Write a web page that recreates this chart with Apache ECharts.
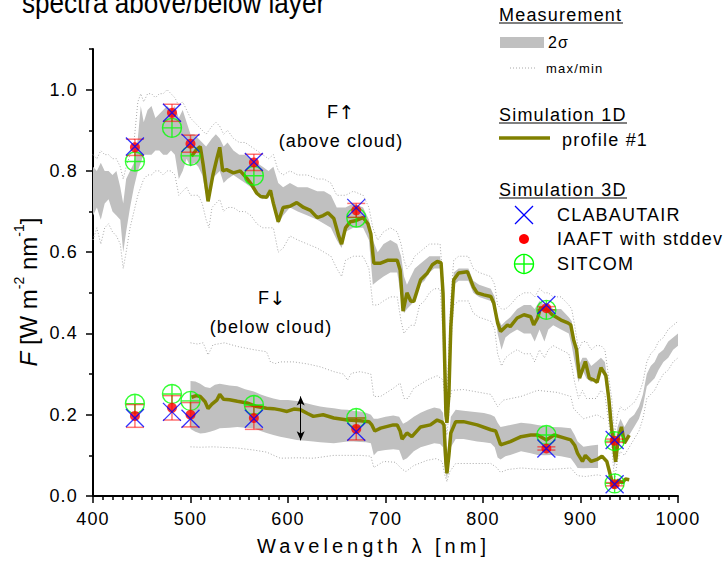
<!DOCTYPE html>
<html>
<head>
<meta charset="utf-8">
<script src="https://cdn.jsdelivr.net/npm/echarts/dist/echarts.min.js"></script>
<style>
html,body{margin:0;padding:0;background:#fff;}
#main{width:724px;height:564px;}
/* the original figure uses wide letter spacing */
#main text{letter-spacing:1.2px;}
#main text[style*="20px"]{letter-spacing:4px;}
#main text[style*="29px"],#main text[style*="24px"],#main text[style*="14px"],#main text[style*="19px"]{letter-spacing:0;}
</style>
</head>
<body>
<div id="main"></div>
<script>
// measured F up (above cloud): 2 sigma band and max/min
var upWl = [400,404,408,412,416,420,424,428,431,434,
    438,442,446,449,452,456,460,464,468,472,
    476,480,484,488,492,496,500,504,508,512,
    516,519,522,526,530,534,538,544,550,556,
    562,568,574,580,585,590,595,602,610,620,
    630,637,644,650,655,659,667,677,683,687,
    692,698,705,712,716,719,722,726,730,735,
    740,745,750,756,759,761,763,765,767,770,
    775,785,790,796,808,812,815,819,823,828,
    835,842,849,853,858,863,867,872,880,888,
    891,894,898,902,906,911,916,921,925,929,
    932,935,938,941,945,950,955,960,964,968,
    972,976,980,985,990,995,1000];
var upLo = [.69,.71,.68,.72,.73,.70,.69,.68,.60,.65,
    .71,.76,.80,.82,.84,.84,.84,.85,.85,.84,
    .84,.85,.84,.78,.80,.83,.81,.82,.81,.79,
    .74,.73,.78,.79,.80,.77,.78,.79,.78,.77,
    .76,.74,.73,.74,.74,.67,.69,.71,.70,.69,
    .68,.67,.66,.63,.61,.65,.66,.66,.63,.52,
    .53,.54,.55,.55,.49,.45,.46,.47,.48,.52,
    .53,.55,.56,.56,.45,.25,.17,.25,.42,.52,
    .53,.53,.50,.49,.48,.46,.40,.36,.39,.40,
    .41,.40,.40,.38,.41,.38,.41,.42,.41,.40,
    .37,.33,.28,.31,.29,.28,.29,.31,.29,.22,
    .16,.07,.12,.15,.13,.15,.17,.19,.22,.27,
    .28,.29,.31,.33,.34,.36,.37];
var upHi = [.81,.80,.82,.80,.80,.79,.80,.76,.72,.78,
    .80,.82,.88,.96,.92,.95,.96,.93,.94,.95,
    .96,.95,.96,.93,.95,.92,.89,.89,.88,.87,
    .86,.87,.88,.89,.88,.86,.87,.85,.84,.84,
    .83,.82,.81,.80,.81,.77,.76,.77,.76,.76,
    .75,.75,.74,.71,.71,.71,.72,.71,.68,.63,
    .60,.62,.63,.62,.59,.54,.52,.54,.56,.57,
    .58,.59,.59,.59,.50,.35,.20,.33,.46,.55,
    .56,.56,.53,.52,.51,.49,.44,.42,.43,.44,
    .46,.47,.47,.46,.48,.47,.47,.46,.46,.44,
    .43,.38,.32,.34,.34,.32,.33,.34,.33,.26,
    .21,.12,.17,.19,.17,.19,.20,.22,.25,.30,
    .32,.33,.35,.36,.38,.39,.40];
var upMin = [.63,.66,.62,.66,.67,.65,.64,.62,.56,.60,
    .66,.70,.74,.76,.78,.79,.79,.80,.80,.79,
    .80,.80,.79,.74,.75,.76,.74,.74,.74,.72,
    .68,.66,.71,.72,.73,.70,.71,.71,.70,.70,
    .69,.67,.66,.66,.66,.60,.61,.64,.63,.62,
    .61,.60,.59,.56,.54,.58,.59,.59,.56,.47,
    .47,.48,.49,.49,.43,.40,.41,.42,.42,.47,
    .48,.50,.51,.51,.40,.20,.15,.20,.37,.47,
    .48,.48,.45,.44,.43,.41,.35,.32,.34,.35,
    .36,.35,.35,.33,.36,.34,.36,.37,.36,.35,
    .32,.28,.24,.26,.24,.24,.24,.26,.25,.18,
    .12,.04,.09,.11,.10,.12,.14,.16,.19,.24,
    .25,.26,.28,.30,.31,.33,.34];
var upMax = [.84,.83,.85,.84,.84,.83,.83,.81,.78,.81,
    .84,.87,.97,.99,.97,.99,.99,.98,.99,.99,
    1.00,.99,.98,.96,.97,.95,.93,.92,.91,.90,
    .89,.90,.91,.92,.91,.89,.90,.88,.87,.87,
    .86,.85,.84,.83,.84,.80,.79,.80,.79,.79,
    .78,.78,.77,.74,.74,.74,.75,.74,.71,.66,
    .63,.65,.66,.65,.62,.58,.56,.57,.59,.60,
    .61,.62,.62,.62,.53,.38,.23,.36,.49,.58,
    .59,.59,.56,.55,.54,.52,.47,.46,.46,.47,
    .49,.50,.50,.49,.51,.50,.50,.49,.49,.47,
    .46,.42,.36,.38,.38,.36,.37,.37,.36,.29,
    .24,.15,.20,.22,.21,.22,.23,.25,.28,.33,
    .35,.36,.38,.39,.41,.42,.43];

// measured F down (below cloud): 2 sigma band
var dnWl = [500,505,510,515,520,525,530,540,548,556,
    565,572,578,585,592,600,609,618,626,633,
    640,647,655,661,667,674,680,685,688,692,
    700,708,714,718,722,729,736,743,750,756,
    759,761,763,765,767,772,780,787,794,801,
    808,812,815,818,823,828,839,849,856,863,
    870,880,890,894,897,903,911,918];
var dnLo = [.165,.158,.154,.155,.158,.162,.167,.168,.17,.168,
    .167,.16,.155,.15,.146,.142,.138,.136,.134,.132,
    .131,.13,.132,.134,.134,.133,.132,.13,.10,.11,
    .113,.115,.113,.088,.093,.11,.12,.125,.13,.128,
    .12,.07,.04,.08,.12,.14,.14,.137,.134,.132,
    .13,.12,.095,.09,.098,.101,.11,.105,.101,.10,
    .101,.098,.093,.08,.069,.068,.069,.069];
var dnHi = [.283,.282,.276,.268,.266,.274,.276,.272,.27,.263,
    .257,.25,.245,.24,.236,.236,.234,.229,.224,.22,
    .218,.216,.213,.212,.21,.208,.205,.2,.19,.19,
    .195,.198,.195,.178,.183,.195,.205,.212,.218,.215,
    .205,.15,.10,.14,.195,.212,.21,.208,.206,.204,
    .2,.195,.18,.17,.172,.175,.18,.178,.175,.172,
    .17,.169,.167,.15,.134,.121,.124,.126];
// measured F down max / min
var dnMaxWl = [500,507,513,518,523,535,548,565,578,582,
    587,592,606,620,633,647,657,661,665,674,
    685,688,695,708,715,719,723,729,743,753,
    759,761,763,765,768,780,794,808,815,821,
    839,856,876,890,893,903,917,924];
var dnMax = [.377,.374,.377,.347,.372,.377,.368,.36,.355,.33,
    .326,.33,.33,.325,.318,.306,.30,.285,.302,.306,
    .30,.245,.245,.265,.278,.24,.24,.265,.286,.296,
    .286,.24,.19,.23,.26,.262,.256,.25,.22,.236,
    .245,.26,.255,.245,.215,.19,.2,.19];
var dnMinWl = [500,510,523,548,565,578,592,610,626,647,
    674,685,688,698,710,717,721,729,743,752,
    758,761,763,766,772,780,795,808,814,818,
    825,839,850,863,880,890,897,905,917,922];
var dnMin = [.121,.12,.121,.118,.113,.108,.093,.094,.093,.10,
    .10,.098,.07,.085,.083,.066,.06,.075,.088,.092,
    .085,.05,.035,.06,.08,.08,.08,.08,.07,.058,
    .065,.069,.067,.065,.067,.069,.05,.048,.052,.05];

// simulation 1D, profile #1
var simUpWl = [501,506,510,513,518,523,527,530,533,537,
    544,551,558,563,568,572,578,582,585,590,
    595,602,609,616,623,630,636,641,647,652,
    655,659,664,670,677,682,685,688,695,702,
    712,715,718,722,726,729,736,743,748,753,
    757,759,760,762,763,765,767,770,775,784,
    790,794,801,808,811,815,818,825,828,835,
    842,849,852,856,859,866,871,880,887,890,
    893,896,899,905,909,914,917,921,926,929,
    931,934,936,939,942,945,950];
var simUp = [.836,.852,.86,.815,.725,.79,.83,.858,.80,.803,
    .795,.80,.781,.765,.745,.737,.735,.752,.72,.675,
    .71,.713,.722,.71,.703,.685,.69,.697,.683,.64,
    .62,.66,.675,.678,.685,.67,.645,.573,.573,.58,
    .58,.556,.455,.50,.479,.479,.532,.549,.569,.577,
    .574,.50,.40,.20,.18,.25,.417,.532,.549,.552,
    .515,.50,.495,.491,.475,.426,.405,.421,.417,.438,
    .446,.441,.421,.438,.463,.458,.446,.433,.426,.421,
    .384,.36,.29,.331,.29,.285,.28,.316,.297,.24,
    .187,.121,.084,.146,.17,.13,.15];
var simDnWl = [501,506,510,515,518,522,527,530,534,540,
    548,558,568,578,585,592,599,606,613,620,
    626,636,647,661,674,683,686,689,695,708,
    712,715,717,722,727,736,746,753,758,760,
    762,763,765,767,772,780,794,808,813,816,
    818,828,839,849,856,865,873,883,890,894,
    897,902,905,911,917,922,927,931,934,937,
    939,943,946,950];
var simDn = [.243,.247,.245,.232,.215,.226,.236,.25,.238,.237,
    .233,.229,.22,.216,.215,.212,.208,.214,.212,.203,
    .196,.2,.192,.187,.185,.183,.175,.16,.167,.175,
    .175,.16,.14,.155,.146,.17,.175,.187,.182,.175,
    .08,.056,.10,.155,.183,.183,.175,.163,.16,.14,
    .126,.134,.146,.15,.15,.138,.15,.143,.138,.125,
    .105,.085,.10,.085,.09,.098,.085,.048,.02,.035,
    .039,.032,.042,.04];

// simulation 3D
var wl3d = [443, 481, 500, 565, 670, 865, 935];
var clabUp = [.860, .943, .869, .822, .709, .470, .138];
var iaaftUp = [.858, .943, .867, .821, .703, .462, .136];
var iaaftUpSd = [.02, .021, .021, .02, .017, .004, .004];
var sitcomUp = [.823, .906, .837, .788, .685, .458, .135];
var clabDn = [.192, .207, .190, .190, .158, .117, .029];
var iaaftDn = [.197, .217, .200, .192, .165, .117, .029];
var iaaftDnSd = [.028, .03, .03, .028, .027, .004, .004];
var sitcomDn = [.227, .251, .234, .224, .192, .150, .031];

var xMajor = [400, 500, 600, 700, 800, 900, 1000];
var yMajor = [0, 0.2, 0.4, 0.6, 0.8, 1.0];
var yMinor = [0.1, 0.3, 0.5, 0.7, 0.9, 1.1];

var FONT = 'Liberation Sans, Arial, sans-serif';

function pairs(xs, ys) {
    var out = [];
    for (var i = 0; i < xs.length; i++) out.push([xs[i], ys[i]]);
    return out;
}

// grey 2 sigma band drawn as one polygon
function band(xs, lo, hi) {
    var rows = [];
    for (var i = 0; i < xs.length; i++) rows.push([xs[i], lo[i], hi[i]]);
    return {
        type: 'custom', silent: true, z: 1,
        data: rows,
        encode: {x: 0, y: [1, 2]},
        renderItem: function (params, api) {
            if (params.dataIndex !== 0) return null;
            var pts = [];
            for (var i = 0; i < rows.length; i++) pts.push(api.coord([rows[i][0], rows[i][2]]));
            for (var j = rows.length - 1; j >= 0; j--) pts.push(api.coord([rows[j][0], rows[j][1]]));
            return {type: 'polygon', shape: {points: pts}, style: {fill: '#c0c0c0'}};
        }
    };
}

function dotted(xs, ys) {
    return {
        type: 'line', silent: true, z: 2, data: pairs(xs, ys),
        symbol: 'none', showSymbol: false,
        lineStyle: {color: '#a8a8a8', width: 1, type: [1, 2]}
    };
}

function errBars(xs, ys, sd) {
    var rows = [];
    for (var i = 0; i < xs.length; i++) rows.push([xs[i], ys[i], sd[i]]);
    return {
        type: 'custom', silent: true, z: 5,
        data: rows,
        encode: {x: 0, y: 1},
        renderItem: function (params, api) {
            var x = api.value(0), y = api.value(1), s = api.value(2);
            var top = api.coord([x, y + s]);
            var bot = api.coord([x, y - s]);
            var w = 9;
            function st() { return {stroke: 'rgba(255,0,0,0.55)', lineWidth: 1.5}; }
            return {type: 'group', children: [
                {type: 'line', shape: {x1: top[0], y1: top[1], x2: bot[0], y2: bot[1]}, style: st()},
                {type: 'line', shape: {x1: top[0] - w, y1: top[1], x2: top[0] + w, y2: top[1]}, style: st()},
                {type: 'line', shape: {x1: bot[0] - w, y1: bot[1], x2: bot[0] + w, y2: bot[1]}, style: st()}
            ]};
        }
    };
}

var crossSym = 'path://M0,0L10,10M10,0L0,10';
var sitcomSym = 'path://M0,10A10,10,0,1,1,20,10A10,10,0,1,1,0,10ZM0,10L20,10M10,0L10,20';

function clab(ys) {
    return {type: 'scatter', silent: true, z: 7, data: pairs(wl3d, ys), symbol: crossSym, symbolSize: 18,
        itemStyle: {color: 'transparent', borderColor: '#0000ff', borderWidth: 1.3}};
}
function iaaft(ys) {
    return {type: 'scatter', silent: true, z: 6, data: pairs(wl3d, ys), symbol: 'circle', symbolSize: 10,
        itemStyle: {color: '#ff0000'}};
}
function sitcom(ys) {
    return {type: 'scatter', silent: true, z: 4, data: pairs(wl3d, ys), symbol: sitcomSym, symbolSize: 19,
        itemStyle: {color: 'transparent', borderColor: '#00ff00', borderWidth: 1.4}};
}

function txt(x, y, s, size, align) {
    return {type: 'text', x: x, y: y, silent: true, style: {
        text: s, fontSize: size, fontFamily: FONT, fill: '#000',
        align: align || 'left', verticalAlign: 'middle'}};
}
// "F" with a tall arrow next to it
function fArrow(x, y, arrow) {
    return {type: 'text', x: x, y: y, silent: true, style: {
        text: '{f|F}{a|' + arrow + '}', align: 'center', verticalAlign: 'middle', fill: '#000',
        rich: {
            f: {fontSize: 18, fontFamily: FONT, verticalAlign: 'bottom', lineHeight: 22},
            a: {fontSize: 19, fontFamily: 'DejaVu Sans', verticalAlign: 'bottom', lineHeight: 22}
        }}};
}
function ln(x1, y1, x2, y2, color, width, dash) {
    return {type: 'line', silent: true, shape: {x1: x1, y1: y1, x2: x2, y2: y2},
        style: {stroke: color, lineWidth: width, lineDash: dash || null}};
}

var chart = echarts.init(document.getElementById('main'), null, {renderer: 'svg'});

var option = {
    animation: false,
    backgroundColor: '#fff',
    textStyle: {fontFamily: FONT},
    grid: {left: 93, right: 46, top: 49, bottom: 68},
    xAxis: {
        type: 'value', min: 400, max: 1000, interval: 100,
        name: 'Wavelength λ [nm]', nameLocation: 'middle', nameGap: 40,
        nameTextStyle: {fontSize: 20, color: '#000', fontFamily: FONT, padding: [0, 24, 0, 0]},
        axisLine: {onZero: false, lineStyle: {color: '#000', width: 2}},
        axisTick: {length: 7, customValues: xMajor, lineStyle: {color: '#000', width: 1.5}},
        minorTick: {show: true, splitNumber: 10, length: 4, lineStyle: {color: '#000', width: 1.5}},
        axisLabel: {customValues: xMajor, fontSize: 18, color: '#000', margin: 14, fontFamily: FONT,
            formatter: function (v) { return String(v); }},
        splitLine: {show: false}
    },
    yAxis: [{
        type: 'value', min: 0, max: 1.1, position: 'left',
        axisLine: {show: true, lineStyle: {color: '#000', width: 2}},
        axisTick: {show: true, length: 7, customValues: yMajor, lineStyle: {color: '#000', width: 1.5}},
        axisLabel: {customValues: yMajor, fontSize: 18, color: '#000', margin: 15, fontFamily: FONT,
            formatter: function (v) { return v.toFixed(1); }},
        splitLine: {show: false}
    }, {
        type: 'value', min: 0, max: 1.1, position: 'left',
        axisLine: {show: false},
        axisTick: {show: true, length: 4, customValues: yMinor, lineStyle: {color: '#000', width: 1.5}},
        axisLabel: {show: false},
        splitLine: {show: false}
    }],
    series: [
        band(upWl, upLo, upHi),
        band(dnWl, dnLo, dnHi),
        dotted(upWl, upMin),
        dotted(upWl, upMax),
        dotted(dnMinWl, dnMin),
        dotted(dnMaxWl, dnMax),
        {
            type: 'line', silent: true, z: 3, data: pairs(simUpWl, simUp),
            symbol: 'none', showSymbol: false,
            lineStyle: {color: '#808000', width: 3.5}
        },
        {
            type: 'line', silent: true, z: 3, data: pairs(simDnWl, simDn),
            symbol: 'none', showSymbol: false,
            lineStyle: {color: '#808000', width: 3.5},
            // 2 sigma arrow
            markLine: {
                silent: true, symbol: ['arrow', 'arrow'], symbolSize: [6, 9],
                label: {show: false},
                lineStyle: {color: '#000', width: 1, type: 'solid'},
                data: [[{coord: [613, 0.245]}, {coord: [613, 0.137]}]]
            }
        },
        sitcom(sitcomUp), sitcom(sitcomDn),
        errBars(wl3d, iaaftUp, iaaftUpSd), errBars(wl3d, iaaftDn, iaaftDnSd),
        iaaft(iaaftUp), iaaft(iaaftDn),
        clab(clabUp), clab(clabDn)
    ],
    graphic: [
        // title, cut at the top edge like in the original
        {type: 'text', x: 22, y: 3, scaleX: 0.9, silent: true, style: {text: 'spectra above/below layer', fontSize: 29,
            fontFamily: FONT, fill: '#000', align: 'left', verticalAlign: 'middle'}},
        // y axis name
        {type: 'text', x: 26, y: 292, rotation: Math.PI / 2, silent: true, style: {
            text: '{i|F}{n| [W m}{s|-2}{n| nm}{s|-1}{n|]}',
            align: 'center', verticalAlign: 'middle', fill: '#000',
            rich: {
                i: {fontSize: 24, fontFamily: FONT, fontStyle: 'italic', verticalAlign: 'bottom', lineHeight: 28},
                n: {fontSize: 24, fontFamily: FONT, verticalAlign: 'bottom', lineHeight: 28},
                s: {fontSize: 14, fontFamily: FONT, verticalAlign: 'top', lineHeight: 15}
            }}},
        // annotations
        fArrow(341, 110, '↑'),
        txt(341, 141, '(above cloud)', 18, 'center'),
        fArrow(272, 296, '↓'),
        txt(271, 327, '(below cloud)', 18, 'center'),
        txt(306, 432, '2σ', 18),
        // legend
        txt(499, 15, 'Measurement', 18),
        ln(499, 23, 623, 23, '#000', 1),
        {type: 'rect', silent: true, shape: {x: 500, y: 37, width: 44, height: 11}, style: {fill: '#c0c0c0'}},
        txt(548, 42, '2σ', 16),
        ln(510, 68, 537, 68, '#a8a8a8', 1, [1, 2]),
        txt(546, 68, 'max/min', 13),
        txt(499, 115, 'Simulation 1D', 18),
        ln(499, 123, 627, 123, '#000', 1),
        ln(499, 138, 550, 138, '#808000', 3.5),
        txt(562, 140, 'profile #1', 18),
        txt(499, 190, 'Simulation 3D', 18),
        ln(499, 198, 627, 198, '#000', 1),
        ln(515, 206, 533, 224, '#0000ff', 1.3),
        ln(533, 206, 515, 224, '#0000ff', 1.3),
        {type: 'circle', silent: true, shape: {cx: 524, cy: 239, r: 5}, style: {fill: '#ff0000'}},
        {type: 'circle', silent: true, shape: {cx: 524, cy: 264, r: 9.5}, style: {fill: 'none', stroke: '#00ff00', lineWidth: 1.4}},
        ln(514.5, 264, 533.5, 264, '#00ff00', 1.4),
        ln(524, 254.5, 524, 273.5, '#00ff00', 1.4),
        txt(557, 215, 'CLABAUTAIR', 18),
        txt(557, 239, 'IAAFT with stddev', 18),
        txt(557, 264, 'SITCOM', 18)
    ]
};

chart.setOption(option);
</script>
</body>
</html>
